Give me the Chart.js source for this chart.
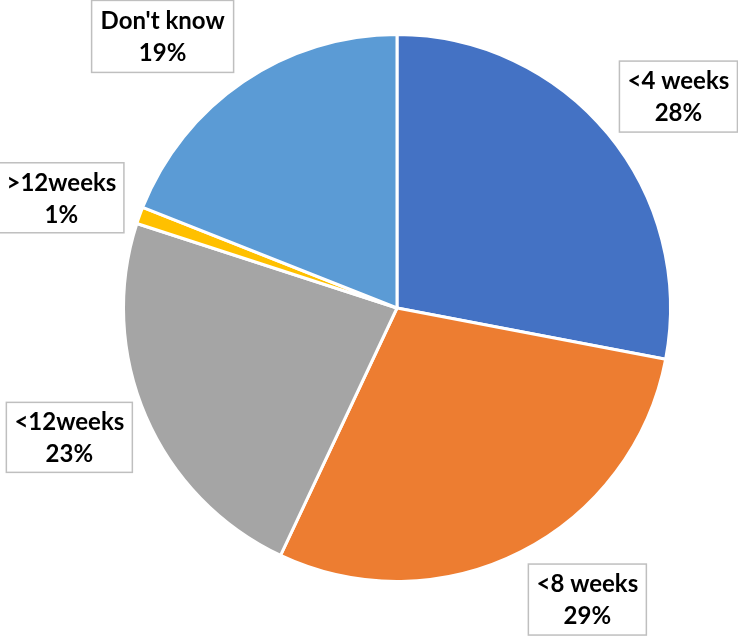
<!DOCTYPE html>
<html><head><meta charset="utf-8">
<script src="https://cdn.jsdelivr.net/npm/chart.js@4/dist/chart.umd.min.js"></script>
<style>html,body{margin:0;padding:0;background:#fff;}#wrap{width:738px;height:636px;}</style>
</head><body><div id="wrap"><canvas id="c" width="738" height="636"></canvas></div>
<script>
const categories = ["<4 weeks", "<8 weeks", "<12weeks", ">12weeks", "Don't know"];
const values = [28, 29, 23, 1, 19];
const colors = ["#4472C4", "#ED7D31", "#A5A5A5", "#FFC000", "#5B9BD5"];
// label box placement relative to pie centre in units of radius, and box sizes
const labelOffsets = [[1.029, -0.773], [0.696, 1.066], [-1.198, 0.473], [-1.227, -0.403], [-0.857, -0.993]];
const labelBoxes = [[118, 71], [118, 71], [126, 70], [125, 70], [142, 72]];

const labelPlugin = {
  id: 'boxLabels',
  afterDatasetsDraw(chart) {
    const ctx = chart.ctx;
    const meta = chart.getDatasetMeta(0);
    const arc0 = meta.data[0];
    const cx = arc0.x, cy = arc0.y, r = arc0.outerRadius;
    const total = values.reduce((a, b) => a + b, 0);
    ctx.save();
    meta.data.forEach((arc, i) => {
      const lx = cx + labelOffsets[i][0] * r;
      const ly = cy + labelOffsets[i][1] * r;
      const [w, h] = labelBoxes[i];
      ctx.fillStyle = '#ffffff';
      ctx.fillRect(lx - w / 2, ly - h / 2, w, h);
      ctx.strokeStyle = '#BFBFBF';
      ctx.lineWidth = 1.5;
      ctx.strokeRect(lx - w / 2, ly - h / 2, w, h);
      ctx.fillStyle = '#000000';
      ctx.font = 'bold 24px Lato, "Open Sans", sans-serif';
      ctx.textAlign = 'center';
      ctx.textBaseline = 'middle';
      const pct = Math.round(values[i] / total * 100) + '%';
      ctx.fillText(categories[i], lx, ly - 15);
      ctx.fillText(pct, lx, ly + 17);
    });
    ctx.restore();
  }
};

new Chart(document.getElementById('c'), {
  type: 'pie',
  data: {
    labels: categories,
    datasets: [{
      data: values,
      backgroundColor: colors,
      borderColor: '#ffffff',
      borderWidth: 3,
      hoverOffset: 0
    }]
  },
  options: {
    responsive: false,
    animation: false,
    layout: { padding: { left: 122, right: 66, top: 33, bottom: 53 } },
    plugins: { legend: { display: false }, tooltip: { enabled: false } }
  },
  plugins: [labelPlugin]
});
</script>
</body></html>
